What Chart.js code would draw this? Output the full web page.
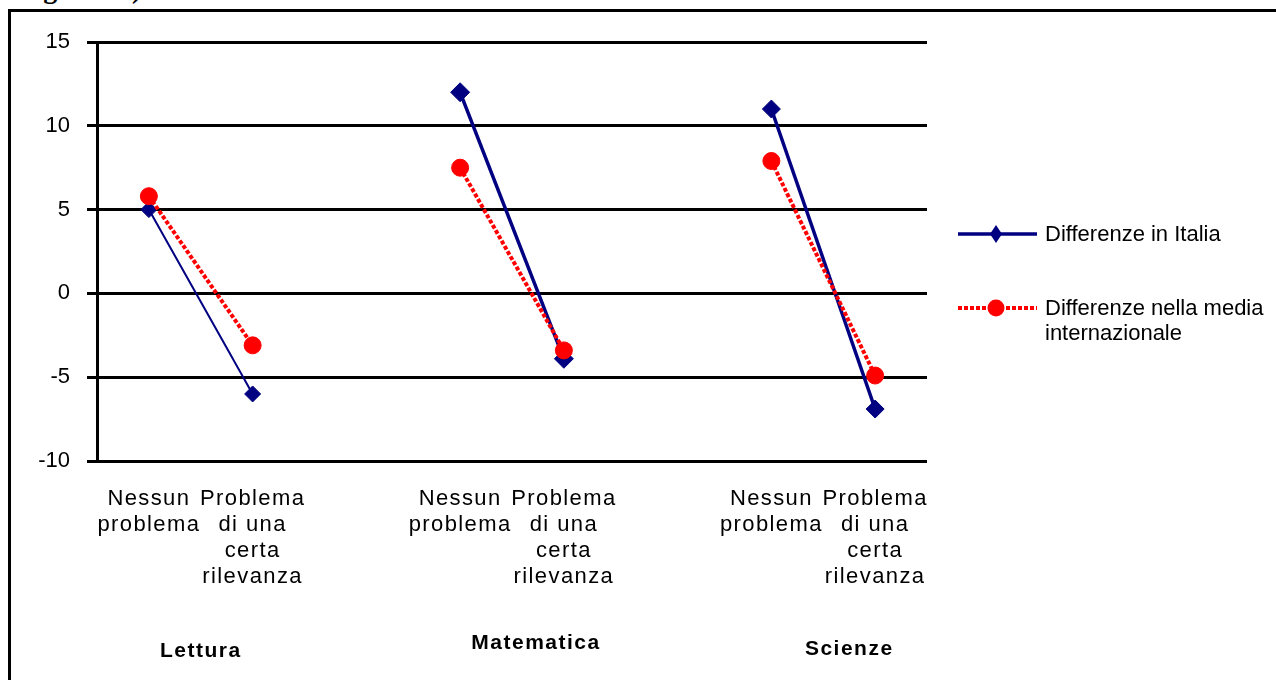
<!DOCTYPE html>
<html><head><meta charset="utf-8">
<script src="https://cdn.jsdelivr.net/npm/chart.js@4.4.0/dist/chart.umd.min.js"></script>
<style>
html,body{margin:0;padding:0;background:#fff;overflow:hidden;width:1276px;height:680px;position:relative;}
#note{position:absolute;left:20px;top:-25px;font:bold 28px "Liberation Serif";line-height:28px;white-space:nowrap;color:#000;}
#frame{position:absolute;left:8px;top:9px;width:2000px;height:2000px;border:3px solid #000;box-sizing:border-box;background:#fff;}
#wrap{position:absolute;left:0;top:0;width:1276px;height:680px;}
</style></head><body>
<div id="note">segnalato).</div>
<div id="frame"></div>
<div id="wrap"><canvas id="c"></canvas></div>
<script>
// ---- data ----
const categories = [
  ["Nessun", "problema"], ["Problema", "di una", "certa", "rilevanza"], "",
  ["Nessun", "problema"], ["Problema", "di una", "certa", "rilevanza"], "",
  ["Nessun", "problema"], ["Problema", "di una", "certa", "rilevanza"]
];
const groups = ["Lettura", "Matematica", "Scienze"];
const seriesNames = ["Differenze in Italia", "Differenze nella media internazionale"];
const italia = [5, -6, null, 12, -3.9, null, 11, -6.9];
const internazionale = [5.8, -3.1, null, 7.5, -3.4, null, 7.9, -4.9];
const yTicks = [-10, -5, 0, 5, 10, 15];

// ---- styles ----
const NAVY = '#000080', RED = '#FF0000';
const FONT = '"Liberation Sans", Arial, sans-serif';
const groupDx = [0, 24, 26];
const groupY = [657, 649, 655];

const decor = {
  id: 'decor',
  afterDatasetsDraw(chart) { chart.ctx.letterSpacing = '1.4px'; },
  afterDraw(chart) {
    const ctx = chart.ctx;
    ctx.letterSpacing = '0px';
    ctx.save();
    const xs = chart.scales.x;
    // group labels
    ctx.fillStyle = '#000';
    ctx.textAlign = 'center';
    ctx.textBaseline = 'alphabetic';
    ctx.font = 'bold 21px ' + FONT;
    ctx.letterSpacing = '1.5px';
    groups.forEach((g, i) => {
      const a = xs.getPixelForValue(i * 3), b = xs.getPixelForValue(i * 3 + 1);
      ctx.fillText(g, (a + b) / 2 + groupDx[i], groupY[i]);
    });
    ctx.letterSpacing = '0px';
    // legend
    const lx0 = 958, lx1 = 1037, mx = 996, tx = 1045;
    ctx.strokeStyle = NAVY; ctx.lineWidth = 3.5; ctx.setLineDash([]);
    ctx.beginPath(); ctx.moveTo(lx0, 234); ctx.lineTo(lx1, 234); ctx.stroke();
    ctx.fillStyle = NAVY;
    ctx.beginPath(); ctx.moveTo(mx, 225); ctx.lineTo(mx + 6, 234); ctx.lineTo(mx, 243); ctx.lineTo(mx - 6, 234); ctx.closePath(); ctx.fill();
    ctx.strokeStyle = RED; ctx.lineWidth = 4; ctx.setLineDash([4, 2]);
    ctx.beginPath(); ctx.moveTo(lx0, 308); ctx.lineTo(lx1, 308); ctx.stroke();
    ctx.setLineDash([]);
    ctx.fillStyle = RED;
    ctx.beginPath(); ctx.arc(mx, 308, 8.5, 0, Math.PI * 2); ctx.fill();
    ctx.fillStyle = '#000';
    ctx.textAlign = 'left'; ctx.textBaseline = 'middle';
    ctx.font = '22px ' + FONT;
    ctx.fillText(seriesNames[0], tx, 235);
    ctx.fillText('Differenze nella media', tx, 309);
    ctx.fillText('internazionale', tx, 334);
    ctx.restore();
  }
};

new Chart(document.getElementById('c'), {
  type: 'line',
  data: {
    labels: categories,
    datasets: [
      {
        label: seriesNames[0],
        data: italia,
        order: 1,
        borderColor: NAVY,
        backgroundColor: NAVY,
        borderWidth: 3.5,
        segment: { borderWidth: c => c.p0DataIndex < 2 ? 2 : 3.5 },
        pointStyle: 'rectRot',
        pointRadius: [8, 8, 0, 9.5, 9.5, 0, 9, 9],
        pointBorderWidth: 1,
        pointBackgroundColor: NAVY,
        pointBorderColor: NAVY,
        spanGaps: false,
        tension: 0
      },
      {
        label: seriesNames[1],
        data: internazionale,
        order: 0,
        borderColor: RED,
        backgroundColor: RED,
        borderWidth: 4,
        borderDash: [4, 2],
        pointStyle: 'circle',
        pointRadius: 8.5,
        pointBorderWidth: 1,
        pointBackgroundColor: RED,
        pointBorderColor: RED,
        spanGaps: false,
        tension: 0
      }
    ]
  },
  options: {
    responsive: true,
    maintainAspectRatio: false,
    animation: false,
    devicePixelRatio: 1,
    layout: { padding: { left: 0, right: 349, top: 42, bottom: 0 } },
    plugins: { legend: { display: false }, tooltip: { enabled: false } },
    scales: {
      x: {
        type: 'category',
        offset: true,
        grid: { display: false, drawTicks: false },
        border: { display: false },
        ticks: {
          z: 1,
          autoSkip: false,
          maxRotation: 0,
          minRotation: 0,
          padding: 25,
          color: '#000',
          font: { family: FONT, size: 22, lineHeight: '26px' }
        },
        afterFit: s => { s.height = 219; }
      },
      y: {
        min: yTicks[0],
        max: yTicks[yTicks.length - 1],
        ticks: {
          stepSize: 5,
          padding: 17,
          color: '#000',
          font: { family: FONT, size: 22 }
        },
        grid: { color: '#000', lineWidth: 3, tickLength: 10, drawTicks: true },
        border: { display: true, color: '#000', width: 3 },
        afterFit: s => { s.width = 97; }
      }
    }
  },
  plugins: [decor]
});
</script>
</body></html>
